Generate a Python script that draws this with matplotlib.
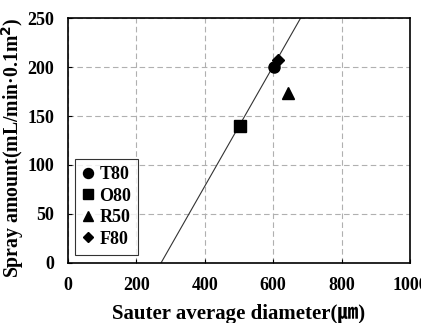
import matplotlib
matplotlib.use("Agg")
import matplotlib.pyplot as plt
import numpy as np

plt.rcParams['font.family'] = ['Liberation Serif', 'Noto Sans CJK JP', 'DejaVu Sans']
plt.rcParams['font.weight'] = 'bold'

names = ["T80", "O80", "R50", "F80"]
diameter = [603, 503, 643, 613]
spray = [200, 140, 173, 207]
markers = ["o", "s", "^", "D"]
msizes = [8, 8, 8, 6]

fit_x = [272, 680]
fit_y = [0, 250]

xticks = [0, 200, 400, 600, 800, 1000]
yticks = [0, 50, 100, 150, 200, 250]

fig = plt.figure(figsize=(4.21, 3.23), dpi=100)
ax = fig.add_axes([0.1615, 0.186, 0.8125, 0.758])

ax.plot(fit_x, fit_y, color='#333333', lw=0.8, zorder=2)
for n, x, y, m, s in zip(names, diameter, spray, markers, msizes):
    ax.plot([x], [y], linestyle='none', marker=m, color='black', markersize=s, label=n, zorder=3)

ax.set_xlim(0, 1000)
ax.set_ylim(0, 250)
ax.set_xticks(xticks)
ax.set_yticks(yticks)
ax.tick_params(direction='in', length=3, labelsize=13)
ax.tick_params(axis='y', pad=10)
ax.tick_params(axis='x', pad=10)
for lab in ax.get_xticklabels() + ax.get_yticklabels():
    lab.set_fontweight('bold')
ax.grid(True, color='#b0b0b0', linestyle=(0, (5, 3)), lw=0.8)
for sp in ax.spines.values():
    sp.set_linewidth(1.2)

ax.set_xlabel("Sauter average diameter(㎛)", fontsize=15, fontweight='bold', labelpad=7)
ax.set_ylabel("Spray amount(mL/min·0.1m$^\\mathbf{2}$)", fontsize=14.2, fontweight='bold')
ax.yaxis.set_label_coords(-0.122, 0.47)

leg = ax.legend(loc='lower left', bbox_to_anchor=(0.02, 0.033), borderaxespad=0, frameon=True,
                fancybox=False, edgecolor='black', handlelength=0.7, handletextpad=0.25,
                borderpad=0.4, labelspacing=0.25, markerscale=0.9,
                prop={'weight': 'bold', 'size': 13})
leg.get_frame().set_linewidth(0.8)

fig.savefig("out.png", dpi=100)
